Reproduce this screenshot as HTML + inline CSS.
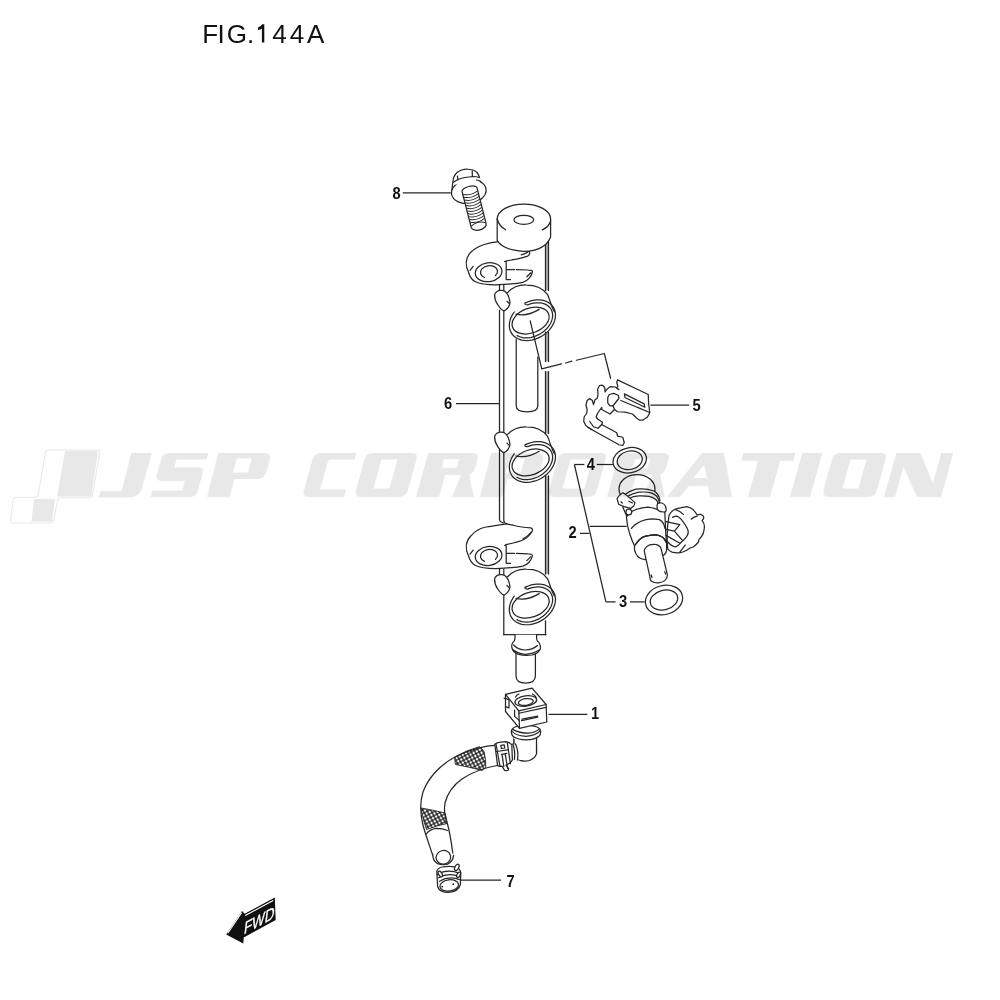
<!DOCTYPE html>
<html><head><meta charset="utf-8"><style>
html,body{margin:0;padding:0;background:#fff;width:1000px;height:1000px;overflow:hidden;}
svg{display:block;font-family:"Liberation Sans",sans-serif;will-change:transform;}
</style></head><body><svg width="1000" height="1000" viewBox="0 0 1000 1000"><rect x="545.5" y="240" width="3" height="50.39999999999998" fill="#b5b5b5"/><rect x="545.5" y="332" width="3" height="29.5" fill="#b5b5b5"/><rect x="545.5" y="371.5" width="3" height="61.89999999999998" fill="#b5b5b5"/><rect x="545.5" y="475.8" width="3" height="98.19999999999999" fill="#b5b5b5"/><path d="M545.5,240 V290.4" stroke="#262626" stroke-width="1.25" stroke-linecap="round" stroke-linejoin="round"  fill="none"/><path d="M545.5,332 V361.5" stroke="#262626" stroke-width="1.25" stroke-linecap="round" stroke-linejoin="round"  fill="none"/><path d="M545.5,371.5 V433.4" stroke="#262626" stroke-width="1.25" stroke-linecap="round" stroke-linejoin="round"  fill="none"/><path d="M545.5,475.8 V574" stroke="#262626" stroke-width="1.25" stroke-linecap="round" stroke-linejoin="round"  fill="none"/><path d="M545.5,620.8 V634.8" stroke="#262626" stroke-width="1.25" stroke-linecap="round" stroke-linejoin="round"  fill="none"/><path d="M548.5,240 V290.4" stroke="#262626" stroke-width="1.25" stroke-linecap="round" stroke-linejoin="round"  fill="none"/><path d="M548.5,332 V361.5" stroke="#262626" stroke-width="1.25" stroke-linecap="round" stroke-linejoin="round"  fill="none"/><path d="M548.5,371.5 V433.4" stroke="#262626" stroke-width="1.25" stroke-linecap="round" stroke-linejoin="round"  fill="none"/><path d="M548.5,475.8 V574" stroke="#262626" stroke-width="1.25" stroke-linecap="round" stroke-linejoin="round"  fill="none"/><path d="M499.5,284.8 V290" stroke="#262626" stroke-width="1.25" stroke-linecap="round" stroke-linejoin="round"  fill="none"/><path d="M499.5,310 V432.6" stroke="#262626" stroke-width="1.25" stroke-linecap="round" stroke-linejoin="round"  fill="none"/><path d="M503.8,284.8 V292" stroke="#262626" stroke-width="1.25" stroke-linecap="round" stroke-linejoin="round"  fill="none"/><path d="M503.8,306 V432.6" stroke="#262626" stroke-width="1.25" stroke-linecap="round" stroke-linejoin="round"  fill="none"/><path d="M503.8,569.4 V634.8" stroke="#262626" stroke-width="1.25" stroke-linecap="round" stroke-linejoin="round"  fill="none"/><path d="M499.5,449.4 V519.5 Q499.8,522.3 503.6,522.8" stroke="#262626" stroke-width="1.25" stroke-linecap="round" stroke-linejoin="round"  fill="none"/><path d="M503.8,453.4 V520.5 Q504.3,523.3 506.8,523.8" stroke="#262626" stroke-width="1.25" stroke-linecap="round" stroke-linejoin="round"  fill="none"/><path d="M499.5,569.4 V574.5" stroke="#262626" stroke-width="1.25" stroke-linecap="round" stroke-linejoin="round"  fill="none"/><path d="M503.8,634.5 H546" stroke="#262626" stroke-width="1.25" stroke-linecap="round" stroke-linejoin="round"  fill="none"/><path d="M516.2,339 V406 Q516.2,411.8 527,411.8 Q537.8,411.8 537.8,406 V357" stroke="#262626" stroke-width="1.25" stroke-linecap="round" stroke-linejoin="round"  fill="none"/><g transform="translate(0,0)"><path d="M507.6,576.8 C513,571 520,569 526.4,569.2 C535,569.2 542,571 547.6,578.8 C549.5,583 551,590 554.4,596" stroke="#262626" stroke-width="1.25" stroke-linecap="round" stroke-linejoin="round"  fill="none"/><path d="M502,574.6 C498,574 495,576.5 494.6,579 C494.5,583 496,586.5 497.5,588.5 C499,591 501,594 504,595.2 C507,593.5 509.5,590 510,587 C509.5,583 508.5,579 506,576.5 C505,575.5 503.5,574.8 502,574.6 Z" stroke="#262626" stroke-width="1.25" stroke-linecap="round" stroke-linejoin="round" fill="#fff"/><path d="M507,585.5 L509,587.5" stroke="#262626" stroke-width="1.25" stroke-linecap="round" stroke-linejoin="round"  fill="none"/><path d="M526.10,586.82 L528.76,585.74 L531.46,584.91 L534.18,584.35 L536.87,584.08 L539.50,584.08 L542.04,584.37 L544.44,584.93 L546.67,585.76 L548.70,586.85 L550.51,588.19 L552.07,589.75 L553.35,591.51 L554.35,593.45 L555.04,595.54 L555.41,597.76 L555.47,600.07 L555.21,602.44 L554.63,604.83 L553.74,607.22 L552.56,609.57 L551.10,611.85 L549.37,614.02 L547.42,616.07 L545.25,617.95 L542.91,619.64 L540.42,621.12 L537.82,622.37 L535.14,623.37 L532.43,624.11 L529.72,624.57 L527.04,624.75 L524.44,624.66 L521.95,624.28 L519.60,623.62 L517.43,622.70 L515.47,621.53 L513.74,620.12 L512.27,618.49 L511.08,616.66 L510.19,614.67 L509.60,612.53 L509.33,610.28 L509.38,607.95 L509.75,605.57 L510.43,603.17 L511.42,600.79 L512.70,598.46 L514.25,596.21" stroke="#262626" stroke-width="1.25" stroke-linecap="round" stroke-linejoin="round"  fill="none"/><path d="M528.59,588.69 L530.34,588.10 L532.11,587.62 L533.88,587.27 L535.63,587.04 L537.36,586.95 L539.05,586.98 L540.68,587.14 L542.25,587.43 L543.75,587.85 L545.16,588.38 L546.47,589.04 L547.68,589.81 L548.77,590.69 L549.74,591.67 L550.57,592.74 L551.27,593.90 L551.83,595.14 L552.25,596.45 L552.51,597.82 L552.62,599.23 L552.58,600.69 L552.39,602.17 L552.05,603.67 L551.56,605.18 L550.93,606.68 L550.16,608.16 L549.25,609.62 L548.22,611.04 L547.07,612.41 L545.81,613.73 L544.44,614.97 L542.99,616.14 L541.45,617.23 L539.84,618.22 L538.18,619.10 L536.47,619.89 L534.73,620.55 L532.97,621.10 L531.20,621.53 L529.43,621.83 L527.69,622.01 L525.98,622.06 L524.31,621.97 L522.70,621.76 L521.15,621.42 L519.69,620.96 L518.32,620.37 L517.04,619.67" stroke="#262626" stroke-width="1.25" stroke-linecap="round" stroke-linejoin="round"  fill="none"/><path d="M526.1,586.8 Q524.6,586.9 525,588.2 Q525.8,589.4 528.5,588.9" stroke="#262626" stroke-width="1.25" stroke-linecap="round" stroke-linejoin="round"  fill="none"/><ellipse cx="530.6" cy="604.8" rx="19.2" ry="12.4" transform="rotate(-20 530.6 604.8)" stroke="#262626" stroke-width="1.25" stroke-linecap="round" stroke-linejoin="round"  fill="none"/><path d="M516,598.4 Q527,601 539.2,593.6" stroke="#262626" stroke-width="1.25" stroke-linecap="round" stroke-linejoin="round"  fill="none"/></g><g transform="translate(0,-142.4)"><path d="M507.6,576.8 C513,571 520,569 526.4,569.2 C535,569.2 542,571 547.6,578.8 C549.5,583 551,590 554.4,596" stroke="#262626" stroke-width="1.25" stroke-linecap="round" stroke-linejoin="round"  fill="none"/><path d="M502,574.6 C498,574 495,576.5 494.6,579 C494.5,583 496,586.5 497.5,588.5 C499,591 501,594 504,595.2 C507,593.5 509.5,590 510,587 C509.5,583 508.5,579 506,576.5 C505,575.5 503.5,574.8 502,574.6 Z" stroke="#262626" stroke-width="1.25" stroke-linecap="round" stroke-linejoin="round" fill="#fff"/><path d="M507,585.5 L509,587.5" stroke="#262626" stroke-width="1.25" stroke-linecap="round" stroke-linejoin="round"  fill="none"/><path d="M526.10,586.82 L528.76,585.74 L531.46,584.91 L534.18,584.35 L536.87,584.08 L539.50,584.08 L542.04,584.37 L544.44,584.93 L546.67,585.76 L548.70,586.85 L550.51,588.19 L552.07,589.75 L553.35,591.51 L554.35,593.45 L555.04,595.54 L555.41,597.76 L555.47,600.07 L555.21,602.44 L554.63,604.83 L553.74,607.22 L552.56,609.57 L551.10,611.85 L549.37,614.02 L547.42,616.07 L545.25,617.95 L542.91,619.64 L540.42,621.12 L537.82,622.37 L535.14,623.37 L532.43,624.11 L529.72,624.57 L527.04,624.75 L524.44,624.66 L521.95,624.28 L519.60,623.62 L517.43,622.70 L515.47,621.53 L513.74,620.12 L512.27,618.49 L511.08,616.66 L510.19,614.67 L509.60,612.53 L509.33,610.28 L509.38,607.95 L509.75,605.57 L510.43,603.17 L511.42,600.79 L512.70,598.46 L514.25,596.21" stroke="#262626" stroke-width="1.25" stroke-linecap="round" stroke-linejoin="round"  fill="none"/><path d="M528.59,588.69 L530.34,588.10 L532.11,587.62 L533.88,587.27 L535.63,587.04 L537.36,586.95 L539.05,586.98 L540.68,587.14 L542.25,587.43 L543.75,587.85 L545.16,588.38 L546.47,589.04 L547.68,589.81 L548.77,590.69 L549.74,591.67 L550.57,592.74 L551.27,593.90 L551.83,595.14 L552.25,596.45 L552.51,597.82 L552.62,599.23 L552.58,600.69 L552.39,602.17 L552.05,603.67 L551.56,605.18 L550.93,606.68 L550.16,608.16 L549.25,609.62 L548.22,611.04 L547.07,612.41 L545.81,613.73 L544.44,614.97 L542.99,616.14 L541.45,617.23 L539.84,618.22 L538.18,619.10 L536.47,619.89 L534.73,620.55 L532.97,621.10 L531.20,621.53 L529.43,621.83 L527.69,622.01 L525.98,622.06 L524.31,621.97 L522.70,621.76 L521.15,621.42 L519.69,620.96 L518.32,620.37 L517.04,619.67" stroke="#262626" stroke-width="1.25" stroke-linecap="round" stroke-linejoin="round"  fill="none"/><path d="M526.1,586.8 Q524.6,586.9 525,588.2 Q525.8,589.4 528.5,588.9" stroke="#262626" stroke-width="1.25" stroke-linecap="round" stroke-linejoin="round"  fill="none"/><ellipse cx="530.6" cy="604.8" rx="19.2" ry="12.4" transform="rotate(-20 530.6 604.8)" stroke="#262626" stroke-width="1.25" stroke-linecap="round" stroke-linejoin="round"  fill="none"/><path d="M516,598.4 Q527,601 539.2,593.6" stroke="#262626" stroke-width="1.25" stroke-linecap="round" stroke-linejoin="round"  fill="none"/></g><g transform="translate(0,-284.2)"><path d="M507.6,576.8 C513,571 520,569 526.4,569.2 C535,569.2 542,571 547.6,578.8 C549.5,583 551,590 554.4,596" stroke="#262626" stroke-width="1.25" stroke-linecap="round" stroke-linejoin="round"  fill="none"/><path d="M502,574.6 C498,574 495,576.5 494.6,579 C494.5,583 496,586.5 497.5,588.5 C499,591 501,594 504,595.2 C507,593.5 509.5,590 510,587 C509.5,583 508.5,579 506,576.5 C505,575.5 503.5,574.8 502,574.6 Z" stroke="#262626" stroke-width="1.25" stroke-linecap="round" stroke-linejoin="round" fill="#fff"/><path d="M507,585.5 L509,587.5" stroke="#262626" stroke-width="1.25" stroke-linecap="round" stroke-linejoin="round"  fill="none"/><path d="M526.10,586.82 L528.76,585.74 L531.46,584.91 L534.18,584.35 L536.87,584.08 L539.50,584.08 L542.04,584.37 L544.44,584.93 L546.67,585.76 L548.70,586.85 L550.51,588.19 L552.07,589.75 L553.35,591.51 L554.35,593.45 L555.04,595.54 L555.41,597.76 L555.47,600.07 L555.21,602.44 L554.63,604.83 L553.74,607.22 L552.56,609.57 L551.10,611.85 L549.37,614.02 L547.42,616.07 L545.25,617.95 L542.91,619.64 L540.42,621.12 L537.82,622.37 L535.14,623.37 L532.43,624.11 L529.72,624.57 L527.04,624.75 L524.44,624.66 L521.95,624.28 L519.60,623.62 L517.43,622.70 L515.47,621.53 L513.74,620.12 L512.27,618.49 L511.08,616.66 L510.19,614.67 L509.60,612.53 L509.33,610.28 L509.38,607.95 L509.75,605.57 L510.43,603.17 L511.42,600.79 L512.70,598.46 L514.25,596.21" stroke="#262626" stroke-width="1.25" stroke-linecap="round" stroke-linejoin="round"  fill="none"/><path d="M528.59,588.69 L530.34,588.10 L532.11,587.62 L533.88,587.27 L535.63,587.04 L537.36,586.95 L539.05,586.98 L540.68,587.14 L542.25,587.43 L543.75,587.85 L545.16,588.38 L546.47,589.04 L547.68,589.81 L548.77,590.69 L549.74,591.67 L550.57,592.74 L551.27,593.90 L551.83,595.14 L552.25,596.45 L552.51,597.82 L552.62,599.23 L552.58,600.69 L552.39,602.17 L552.05,603.67 L551.56,605.18 L550.93,606.68 L550.16,608.16 L549.25,609.62 L548.22,611.04 L547.07,612.41 L545.81,613.73 L544.44,614.97 L542.99,616.14 L541.45,617.23 L539.84,618.22 L538.18,619.10 L536.47,619.89 L534.73,620.55 L532.97,621.10 L531.20,621.53 L529.43,621.83 L527.69,622.01 L525.98,622.06 L524.31,621.97 L522.70,621.76 L521.15,621.42 L519.69,620.96 L518.32,620.37 L517.04,619.67" stroke="#262626" stroke-width="1.25" stroke-linecap="round" stroke-linejoin="round"  fill="none"/><path d="M526.1,586.8 Q524.6,586.9 525,588.2 Q525.8,589.4 528.5,588.9" stroke="#262626" stroke-width="1.25" stroke-linecap="round" stroke-linejoin="round"  fill="none"/><ellipse cx="530.6" cy="604.8" rx="19.2" ry="12.4" transform="rotate(-20 530.6 604.8)" stroke="#262626" stroke-width="1.25" stroke-linecap="round" stroke-linejoin="round"  fill="none"/><path d="M516,598.4 Q527,601 539.2,593.6" stroke="#262626" stroke-width="1.25" stroke-linecap="round" stroke-linejoin="round"  fill="none"/></g><g transform="translate(0,283.8)"><path d="M506.8,240 C500,241 490,242.5 486,243.2 C480,244.5 475,247 471,252 C465,258 465.5,266 468.4,272 C470,277 472,280 475,281.5 C480,284 488,284.8 496,284.8 C505,284.6 515,284 522.8,282.4 C528,281 531.5,276 532.4,272 C532.6,270.5 531,270 528,270 L516.4,269.6" stroke="#262626" stroke-width="1.25" stroke-linecap="round" stroke-linejoin="round"  fill="none"/><path d="M514.5,269.6 L506.8,269.6" stroke="#262626" stroke-width="1.25" stroke-linecap="round" stroke-linejoin="round"  fill="none"/><path d="M506.8,240 C509,240.7 512,241.2 514,241.7 C520,243.2 526,243.7 530.8,244 C532.5,244.7 532.8,246.2 532.4,247 C531.5,249.2 530,251.2 527,253.7 C523,256.7 518,258.2 513.2,259.2 L506,260.8" stroke="#262626" stroke-width="1.25" stroke-linecap="round" stroke-linejoin="round"  fill="none"/><path d="M523,255 Q528,252.5 531,248.5" stroke="#262626" stroke-width="1.25" stroke-linecap="round" stroke-linejoin="round"  fill="none"/><path d="M504.6,261.6 Q505.8,260.8 506.2,262 V279.5 H510.5" stroke="#262626" stroke-width="1.25" stroke-linecap="round" stroke-linejoin="round"  fill="none"/><ellipse cx="488.6" cy="272.2" rx="13.4" ry="9.4" transform="rotate(-8 488.6 272.2)" stroke="#262626" stroke-width="1.25" stroke-linecap="round" stroke-linejoin="round"  fill="none"/><path d="M495.5,275.5 A8.6,6.2 -8 1 0 484.5,277.5" stroke="#262626" stroke-width="1.25" stroke-linecap="round" stroke-linejoin="round"  fill="none"/><path d="M470,270.4 L473.2,266.4" stroke="#262626" stroke-width="1.25" stroke-linecap="round" stroke-linejoin="round"  fill="none"/><path d="M526.8,276.8 L530.8,272.8" stroke="#262626" stroke-width="1.25" stroke-linecap="round" stroke-linejoin="round"  fill="none"/></g><g transform="translate(0,0)"><path d="M498.8,241.6 C490,242 478,245.5 471,252 C465,258 465.5,266 468.4,272 C470,277 472,280 475,281.5 C480,284 488,284.8 496,284.8 C505,284.6 515,284 522.8,282.4 C528,281 531.5,276 532.4,272 C532.6,270.5 531,270 528,270 L516.4,269.6" stroke="#262626" stroke-width="1.25" stroke-linecap="round" stroke-linejoin="round"  fill="none"/><path d="M514.5,269.6 L506.8,269.6" stroke="#262626" stroke-width="1.25" stroke-linecap="round" stroke-linejoin="round"  fill="none"/><path d="M498.8,241.6 C502,245 508,247.5 514,248.3 C520,249.5 526,249.6 528.5,250.8 C530.5,252.5 529.8,255 527.5,256.2 C522,258.5 515,259.5 511.6,260 L506.5,260.8" stroke="#262626" stroke-width="1.25" stroke-linecap="round" stroke-linejoin="round"  fill="none"/><path d="M521.2,254.8 Q525.5,253.8 527.8,252" stroke="#262626" stroke-width="1.25" stroke-linecap="round" stroke-linejoin="round"  fill="none"/><path d="M504.6,261.6 Q505.8,260.8 506.2,262 V279.5 H510.5" stroke="#262626" stroke-width="1.25" stroke-linecap="round" stroke-linejoin="round"  fill="none"/><ellipse cx="488.6" cy="272.2" rx="13.4" ry="9.4" transform="rotate(-8 488.6 272.2)" stroke="#262626" stroke-width="1.25" stroke-linecap="round" stroke-linejoin="round"  fill="none"/><path d="M495.5,275.5 A8.6,6.2 -8 1 0 484.5,277.5" stroke="#262626" stroke-width="1.25" stroke-linecap="round" stroke-linejoin="round"  fill="none"/><path d="M470,270.4 L473.2,266.4" stroke="#262626" stroke-width="1.25" stroke-linecap="round" stroke-linejoin="round"  fill="none"/><path d="M526.8,276.8 L530.8,272.8" stroke="#262626" stroke-width="1.25" stroke-linecap="round" stroke-linejoin="round"  fill="none"/></g><path d="M497.2,219 V240.6 Q503,250 524,251.4 Q545,251 550.6,237 V219" stroke="#262626" stroke-width="1.25" stroke-linecap="round" stroke-linejoin="round" fill="#fff"/><path d="M497.2,219 A26.7,15 0 0 1 550.6,219" stroke="#262626" stroke-width="1.25" stroke-linecap="round" stroke-linejoin="round" fill="#fff"/><path d="M497.2,219 Q499,226 505.6,229.8" stroke="#262626" stroke-width="1.25" stroke-linecap="round" stroke-linejoin="round"  fill="none"/><path d="M542.2,229.8 Q549,227 550.6,221" stroke="#262626" stroke-width="1.25" stroke-linecap="round" stroke-linejoin="round"  fill="none"/><ellipse cx="523.8" cy="219.8" rx="9.9" ry="4.5" stroke="#262626" stroke-width="1.25" stroke-linecap="round" stroke-linejoin="round"  fill="none"/><ellipse cx="468.8" cy="191.6" rx="17.4" ry="11.9" transform="rotate(-8 468.8 191.6)" stroke="#262626" stroke-width="1.25" stroke-linecap="round" stroke-linejoin="round" fill="#fff"/><path d="M453,184.5 L453.5,178 Q455,174.5 456.5,173 Q459,171 461.5,170 Q464.5,169.2 467.5,169.25 Q470.5,169.4 473,170 Q475.5,171 477,172.5 Q478.6,174.3 479.5,177.5 L480.2,181.5 Q470,185 453,184.5 Z" fill="#fff" stroke="none"/><path d="M451.9,190 L452.6,184 L453.5,178 Q455,174.5 456.5,173 Q459,171 461.5,170 Q464.5,169.2 467.5,169.25 Q470.5,169.4 473,170 Q475.5,171 477,172.5 Q478.6,174.3 479.5,177.5" stroke="#262626" stroke-width="1.25" stroke-linecap="round" stroke-linejoin="round"  fill="none"/><path d="M453.6,182.2 Q455.5,180.5 458,179.5 Q461.5,178.2 465,177.5 Q469,176.8 472.5,176.5 Q476.5,176.6 479.5,177.5" stroke="#262626" stroke-width="1.25" stroke-linecap="round" stroke-linejoin="round"  fill="none"/><path d="M457.4,176.2 L457.9,179.8 M472.2,171 L472.4,176.4" stroke="#262626" stroke-width="1.25" stroke-linecap="round" stroke-linejoin="round"  fill="none"/><path d="M476.5,180 Q479,180.2 480.8,181.6" stroke="#262626" stroke-width="1.25" stroke-linecap="round" stroke-linejoin="round"  fill="none"/><g transform="translate(469.5,189.6) rotate(-14.35)"><path d="M-7.7,0 A7.7,3.2 0 0 1 7.7,0 V37 A7.7,4.6 0 0 1 -7.7,37 Z" fill="#fff" stroke="#262626" stroke-width="1.25"/><path d="M-7.4,3.20 Q0,6.60 7.4,3.20" fill="none" stroke="#262626" stroke-width="1"/><path d="M-7.4,6.05 Q0,9.45 7.4,6.05" fill="none" stroke="#262626" stroke-width="1"/><path d="M-7.4,8.90 Q0,12.30 7.4,8.90" fill="none" stroke="#262626" stroke-width="1"/><path d="M-7.4,11.75 Q0,15.15 7.4,11.75" fill="none" stroke="#262626" stroke-width="1"/><path d="M-7.4,14.60 Q0,18.00 7.4,14.60" fill="none" stroke="#262626" stroke-width="1"/><path d="M-7.4,17.45 Q0,20.85 7.4,17.45" fill="none" stroke="#262626" stroke-width="1"/><path d="M-7.4,20.30 Q0,23.70 7.4,20.30" fill="none" stroke="#262626" stroke-width="1"/><path d="M-7.4,23.15 Q0,26.55 7.4,23.15" fill="none" stroke="#262626" stroke-width="1"/><path d="M-7.4,26.00 Q0,29.40 7.4,26.00" fill="none" stroke="#262626" stroke-width="1"/><path d="M-7.4,28.85 Q0,32.25 7.4,28.85" fill="none" stroke="#262626" stroke-width="1"/><path d="M-7.4,31.70 Q0,35.10 7.4,31.70" fill="none" stroke="#262626" stroke-width="1"/><path d="M-7.4,36 Q0,31.8 7.4,36" fill="none" stroke="#262626" stroke-width="1"/></g><path d="M516,652 V676 Q516,683 525.6,683.2 Q535.2,683 535.4,676 V652" stroke="#262626" stroke-width="1.25" stroke-linecap="round" stroke-linejoin="round" fill="#fff"/><path d="M515,634.8 V638.5 Q514.8,641 512.8,642.5 Q511.4,644.5 511.8,647.5 Q512.8,652 518,654.2 Q525,656.2 532,655 Q538.5,653.5 540.3,649 Q541,645.5 539,642.5 Q536.6,641 536.6,638.5 V634.8" stroke="#262626" stroke-width="1.25" stroke-linecap="round" stroke-linejoin="round" fill="#fff"/><path d="M513.6,645 Q518,649.8 525.2,650 Q532.5,649.8 537.5,645.5" stroke="#262626" stroke-width="1.25" stroke-linecap="round" stroke-linejoin="round"  fill="none"/><path d="M512.6,649.5 Q518,653.8 525.5,654.3 Q533,654 539.2,650" stroke="#262626" stroke-width="1.25" stroke-linecap="round" stroke-linejoin="round"  fill="none"/><path d="M541.75,368.8 L561.55,363.85" stroke="#fff" stroke-width="5" fill="none"/><path d="M530.2,320.8 L541.75,368.8 L561.55,363.85" stroke="#262626" stroke-width="1.25" stroke-linecap="round" stroke-linejoin="round"  fill="none"/><path d="M565.6,363 L571.9,361.2" stroke="#262626" stroke-width="1.25" stroke-linecap="round" stroke-linejoin="round"  fill="none"/><path d="M576.4,360.25 L604.3,353.5 L610.6,378.25" stroke="#262626" stroke-width="1.25" stroke-linecap="round" stroke-linejoin="round"  fill="none"/><polygon points="617.50,379.88 648.25,394.50 648.62,403.50 649.75,412.50 647.50,417.00 643.00,420.00 639.25,420.00 636.25,417.75 632.50,414.00 625.00,412.12 617.50,411.75 614.50,409.50 610.00,414.00 601.75,409.50 601.75,407.25 597.25,414.00 596.12,417.00 598.00,419.25 602.50,422.25 601.75,424.50 616.75,432.75 617.50,436.12 622.75,437.25 624.25,442.50 622.75,445.50 619.00,444.75 592.00,429.75 588.25,427.50 585.62,425.25 583.75,421.50 584.12,417.00 586.75,413.25 587.12,409.50 586.00,405.00 587.12,400.50 589.75,398.62 592.38,400.50 593.50,404.62 595.00,399.75 597.25,398.25 598.00,394.50 597.62,389.25 599.50,385.50 602.50,385.12 604.75,387.75 605.12,391.88 606.25,390.00 610.00,386.62 615.25,387.00 619.00,389.62 616.75,388.12 617.88,386.25 616.75,382.50" stroke="#262626" stroke-width="1.25" stroke-linecap="round" stroke-linejoin="round" fill="#fff"/><polygon fill="none" points="609.25,394.50 613.75,393.38 618.25,395.25 619.00,398.25 613.00,405.75 610.00,405.75 607.75,402.75 607.75,397.50" stroke="#262626" stroke-width="1.25" stroke-linecap="round" stroke-linejoin="round"/><polygon fill="none" points="624.40,393.90 644.12,403.88 644.88,407.25 625.00,397.50" stroke="#262626" stroke-width="1.25" stroke-linecap="round" stroke-linejoin="round"/><polyline fill="none" points="620.88,400.50 649.75,412.50" stroke="#262626" stroke-width="1.25" stroke-linecap="round" stroke-linejoin="round"/><polyline fill="none" points="613.00,405.75 614.50,409.50" stroke="#262626" stroke-width="1.25" stroke-linecap="round" stroke-linejoin="round"/><polyline fill="none" points="589.75,421.50 593.50,426.75 598.00,428.25 601.75,424.50" stroke="#262626" stroke-width="1.25" stroke-linecap="round" stroke-linejoin="round"/><polyline fill="none" points="588.25,427.50 592.00,429.75" stroke="#262626" stroke-width="1.25" stroke-linecap="round" stroke-linejoin="round"/><ellipse cx="629.75" cy="460.25" rx="16.9" ry="12.5" transform="rotate(-12 629.75 460.25)" stroke="#262626" stroke-width="1.25" stroke-linecap="round" stroke-linejoin="round"  fill="none"/><ellipse cx="629.75" cy="460.25" rx="12.7" ry="9.2" transform="rotate(-12 629.75 460.25)" stroke="#262626" stroke-width="1.25" stroke-linecap="round" stroke-linejoin="round"  fill="none"/><ellipse cx="664" cy="600" rx="18.9" ry="14.5" transform="rotate(-15 664 600)" stroke="#262626" stroke-width="1.25" stroke-linecap="round" stroke-linejoin="round"  fill="none"/><ellipse cx="664" cy="600" rx="14" ry="9.7" transform="rotate(-15 664 600)" stroke="#262626" stroke-width="1.25" stroke-linecap="round" stroke-linejoin="round"  fill="none"/><ellipse cx="637" cy="489" rx="18" ry="14.5" stroke="#262626" stroke-width="1.25" stroke-linecap="round" stroke-linejoin="round" fill="#fff"/><path d="M622,497 Q628,491 636,489.2 Q645,487.8 654,491 Q659,494 660.2,500.6 L662,512 L630,514 Z" fill="#fff" stroke="none"/><path d="M625.8,494 Q630,491 636,489.2 Q645,487.8 654,491 Q659,494 660,500.6" stroke="#262626" stroke-width="1.25" stroke-linecap="round" stroke-linejoin="round"  fill="none"/><path d="M627.6,496.4 Q633,493 639,492.2 Q647,491.6 651,492.8 Q656,494.5 657.6,497.6 Q659,500 659.4,502.4" stroke="#262626" stroke-width="1.25" stroke-linecap="round" stroke-linejoin="round"  fill="none"/><path d="M629.4,498.2 Q634,496.2 639,495.8 Q645,495.6 649.2,496.4 Q654,497.5 656.4,500 Q658,502 658.2,503.6" stroke="#262626" stroke-width="1.25" stroke-linecap="round" stroke-linejoin="round"  fill="none"/><path d="M626.4,516.8 Q627,526 629.8,534 Q632,541 634.6,546 Q640,538 645,536.4 Q650,534.8 655.4,534.8 Q661,535 665.8,541.2 L666.6,543.6 L665.8,534 L664.8,512 Q662,509 660,510.8 Q655,508 648,507.2 Q640,507.5 631.8,511.4 Z" stroke="#262626" stroke-width="1.25" stroke-linecap="round" stroke-linejoin="round" fill="#fff"/><path d="M631.4,528.4 Q635,524 641,521.2 Q646,519 651.4,518.8 Q656,518.8 659.4,519.6 Q662,521 663.4,523.6 Q664.5,526 665,528.4" stroke="#262626" stroke-width="1.25" stroke-linecap="round" stroke-linejoin="round"  fill="none"/><path d="M634.6,546 Q634,550 635.4,552.4 Q636.5,555.5 638.6,557.2 Q641,559 645,559.6 L664.2,554.8 Q666.6,552.5 666.6,550 V543.6 Q664,538 662.6,537.2 Q658,534.8 655.4,534.8 Q650,534.8 645,536.4 Q640,538 636.2,543.6 Z" stroke="#262626" stroke-width="1.25" stroke-linecap="round" stroke-linejoin="round" fill="#fff"/><path d="M636.2,543.6 Q640,538 645,536.4 Q650,534.8 655.4,534.8 Q660,535 662.6,537.2 Q665,539 665.8,541.2" stroke="#262626" stroke-width="1.25" stroke-linecap="round" stroke-linejoin="round"  fill="none"/><path d="M644.2,550.8 L649.8,576.4 Q650,580 651.4,581.2 Q655,583.2 658.6,582.8 Q663,582.2 665,580.4 Q667.4,578 667.4,574.8 L661.8,551.6 Q661,547.5 660.2,546.8 Q658,544.6 655.4,544.4 Q652,544 649,545.2 Q645,547 644.2,550.8 Z" stroke="#262626" stroke-width="1.25" stroke-linecap="round" stroke-linejoin="round" fill="#fff"/><path d="M651.2,575 L652,577.5 M664.8,571.6 L665.6,574" stroke="#262626" stroke-width="1.25" stroke-linecap="round" stroke-linejoin="round"  fill="none"/><path d="M617.1,498.8 Q619,495 622.8,492.8 L625.8,494.6 L634.8,502.4 Q635,504.5 633.6,506 L630.6,508.4 L624,506.6 L618.6,504.2 Z" stroke="#262626" stroke-width="1.25" stroke-linecap="round" stroke-linejoin="round" fill="#fff"/><path d="M628.8,501.2 L632.4,503" stroke="#262626" stroke-width="1.25" stroke-linecap="round" stroke-linejoin="round"  fill="none"/><path d="M621,501.8 L622.2,503" stroke="#262626" stroke-width="1.25" stroke-linecap="round" stroke-linejoin="round"  fill="none"/><path d="M622.8,507 L626.4,515.6" stroke="#262626" stroke-width="1.25" stroke-linecap="round" stroke-linejoin="round"  fill="none"/><ellipse cx="628.8" cy="512" rx="2.9" ry="2.9" stroke="#262626" stroke-width="1.25" stroke-linecap="round" stroke-linejoin="round" fill="#fff"/><path d="M657.6,503.6 Q659,502.6 661.8,503 Q664.5,504 665.4,506 Q666.4,508.5 666,510.8 Q665,512.2 663.6,512 Q660,511.8 658.8,510.8 Q657,509 657,507.2 Q657,505 657.6,503.6 Z" stroke="#262626" stroke-width="1.25" stroke-linecap="round" stroke-linejoin="round" fill="#fff"/><path d="M667.8,549.2 Q666,532 669,515.6 Q670.5,512 673.2,510.2 Q675.5,509 678,508.4 Q683,507 687,506.6 Q690.5,507.5 693,509.6 Q695.5,512 697.2,515 Q699,514 700.8,514.4 Q703.5,515.5 703.8,517.4 Q703.6,519.3 702,520.4 Q704.6,523.5 704.4,527 Q704.2,530.5 703.2,533.6 Q701.5,537 699,539.6 L698.4,542 Q696,545 693.6,546.8 Q692,547.5 690,548 Q687.5,549.8 685.2,551 Q682,552.5 679.2,552.8 Q675.5,553 672,552.2 Q669.5,551.2 667.8,549.2 Z" stroke="#262626" stroke-width="1.25" stroke-linecap="round" stroke-linejoin="round" fill="#fff"/><path d="M667.8,542 Q670,544.5 672,545.6 Q674,547 675.6,546.8 Q677.5,546 679.2,544.4 Q681,542.5 682.8,540.8 Q685.5,538.5 687,536 Q688.6,533.5 688.2,531.2 Q687.5,528 685.8,525.8 Q683.5,522 681,519.2 Q679,516.8 676.8,516.2 Q674.5,516.2 672.6,517.4" stroke="#262626" stroke-width="1.25" stroke-linecap="round" stroke-linejoin="round"  fill="none"/><path d="M666,521.6 L679.8,524.6 L674.4,531.2 L666,529.4 M674.4,531.2 L682.2,540.2 M666,535.4 L679.8,543.2" stroke="#262626" stroke-width="1.25" stroke-linecap="round" stroke-linejoin="round"  fill="none"/><path d="M675.6,509.6 Q680,511 683.4,514.4" stroke="#262626" stroke-width="1.25" stroke-linecap="round" stroke-linejoin="round"  fill="none"/><path d="M691.2,519.2 Q694,516.8 697.2,516.2" stroke="#262626" stroke-width="1.25" stroke-linecap="round" stroke-linejoin="round"  fill="none"/><path d="M685.2,545 L679.8,552.2" stroke="#262626" stroke-width="1.25" stroke-linecap="round" stroke-linejoin="round"  fill="none"/><path d="M514,737 V745 L536.5,745 V753.6 Q535,758 532,759.2 Q528.5,761.4 525,761.2 Q521,761 518.6,759.6" stroke="#262626" stroke-width="1.25" stroke-linecap="round" stroke-linejoin="round" fill="#fff"/><path d="M514,737 H536.6 V753 Q530,762 518.6,759.6 L514,758 Z" fill="#fff" stroke="none"/><path d="M536.5,737 V753.6" stroke="#262626" stroke-width="1.25" stroke-linecap="round" stroke-linejoin="round"  fill="none"/><path d="M511.4,731 A14.6,6 0 0 1 540.6,731 V732.5 Q540.6,734.5 539.2,736 Q535,739.6 526,739.9 Q518,739.8 513.5,736.8 Q512,735.5 511.4,733 Z" stroke="#262626" stroke-width="1.25" stroke-linecap="round" stroke-linejoin="round" fill="#fff"/><path d="M511.8,731 Q515,735.6 526,736.3 Q536.5,735.6 540.2,730.6" stroke="#262626" stroke-width="1.25" stroke-linecap="round" stroke-linejoin="round"  fill="none"/><path d="M512.6,729.4 Q520,733.2 528,733.2 Q536,732.6 539.6,728.6" stroke="#262626" stroke-width="1.25" stroke-linecap="round" stroke-linejoin="round"  fill="none"/><path d="M509.6,744 L515.5,743.6 Q519.5,752 517.4,760 L510.8,759.4 Z" fill="#fff" stroke="none"/><path d="M509.8,744.4 Q512.4,751 511,759" stroke="#262626" stroke-width="1.25" stroke-linecap="round" stroke-linejoin="round"  fill="none"/><path d="M512.8,744 Q515.6,751 514.4,759.4" stroke="#262626" stroke-width="1.25" stroke-linecap="round" stroke-linejoin="round"  fill="none"/><path d="M515.4,743.8 Q519,751.5 517.4,760" stroke="#262626" stroke-width="1.25" stroke-linecap="round" stroke-linejoin="round"  fill="none"/><path d="M514,739.5 V744" stroke="#262626" stroke-width="1.25" stroke-linecap="round" stroke-linejoin="round"  fill="none"/><path d="M499,744.8 C488,745.5 470,749 455,757 C440,765 428,778 423,792 C419.5,803 420.5,815 423,825 C425,833 428,841 432.6,855 L452.8,853 C451,840 449.5,831 447.5,824 C445.5,819 443.5,811 445,803 C447,795 452,786 462,779 C472,772 488,767 499.5,765 Z" fill="#fff" stroke="none"/><defs><pattern id="mesh" width="3.5" height="3.5" patternUnits="userSpaceOnUse" patternTransform="rotate(-28)"><rect width="3.5" height="3.5" fill="#262626"/><circle cx="1.75" cy="1.75" r="1.22" fill="#fff"/></pattern></defs><path d="M454.6,757.2 Q467,750 479.2,746.7 Q483.5,749.5 484.2,752 Q486,760 485.8,767.4 L482.2,770.4 Q469,767 455.4,764.4 Z" fill="url(#mesh)" stroke="#262626" stroke-width="0.9"/><path d="M421,808 Q433,810 445,813 Q446.5,818 447.2,823.5 Q437,825.5 426.5,829.5 Q423,820 421,808 Z" fill="url(#mesh)" stroke="#262626" stroke-width="0.9"/><path d="M499,744.8 C488,745.5 470,749 455,757 C440,765 428,778 423,792 C419.5,803 420.5,815 423,825 C425,833 428,841 432.6,855" stroke="#262626" stroke-width="1.25" stroke-linecap="round" stroke-linejoin="round"  fill="none"/><path d="M499.5,765 C488,767 472,772 462,779 C452,786 447,795 445,803 C443.5,811 445.5,819 447.5,824 C449.5,831 451,840 452.8,853" stroke="#262626" stroke-width="1.25" stroke-linecap="round" stroke-linejoin="round"  fill="none"/><path d="M426.3,834 Q430,829 436,828.3 Q443,828.3 447.6,830.5" stroke="#262626" stroke-width="1.25" stroke-linecap="round" stroke-linejoin="round"  fill="none"/><path d="M432.8,854 Q432.5,860 437,863.3 Q442,865.3 447.5,864.2 Q452.8,862 453.6,855.4" stroke="#262626" stroke-width="1.25" stroke-linecap="round" stroke-linejoin="round" fill="#fff"/><ellipse cx="443.4" cy="857.3" rx="7.3" ry="6.8" transform="rotate(-15 443.4 857.3)" stroke="#262626" stroke-width="1.25" stroke-linecap="round" stroke-linejoin="round" fill="#fff"/><path d="M494.8,744.2 Q497,742.6 499.2,742.4 L505.6,741.6 Q509.5,742.2 511.8,744.6 L512.4,760 Q510,764 506,765.2 L508.6,768.6 Q508.8,770.6 506.6,770.6 L504.6,770.4 L502,766.2 Q499.5,766.6 497.6,765.6 Z" stroke="#262626" stroke-width="1.25" stroke-linecap="round" stroke-linejoin="round" fill="#fff"/><path d="M496,744 L500,766.4" stroke="#262626" stroke-width="1.25" stroke-linecap="round" stroke-linejoin="round"  fill="none"/><path d="M507.2,742.2 L510.4,763.6" stroke="#262626" stroke-width="1.25" stroke-linecap="round" stroke-linejoin="round"  fill="none"/><path d="M496.5,751.5 L507.6,749.8" stroke="#262626" stroke-width="1.25" stroke-linecap="round" stroke-linejoin="round"  fill="none"/><path d="M500.8,745.3 L504.2,744.8 L504.8,748 L501.4,748.5 Z" stroke="#262626" stroke-width="1.25" stroke-linecap="round" stroke-linejoin="round"  fill="none"/><path d="M501.6,754.4 L506.8,753.4 M502,754.4 L503.8,766.4 M505.2,753.8 L507.6,768.4" stroke="#262626" stroke-width="1.25" stroke-linecap="round" stroke-linejoin="round"  fill="none"/><polygon points="505.50,694.35 532.10,688.05 546.10,704.50 546.80,722.00 519.50,728.30 505.50,711.50" stroke="#262626" stroke-width="1.25" stroke-linecap="round" stroke-linejoin="round" fill="#fff"/><polyline fill="none" points="505.50,694.35 518.80,710.80 546.10,704.50" stroke="#262626" stroke-width="1.25" stroke-linecap="round" stroke-linejoin="round"/><polyline fill="none" points="518.80,710.80 519.50,728.30" stroke="#262626" stroke-width="1.25" stroke-linecap="round" stroke-linejoin="round"/><polyline fill="none" points="518.80,713.25 546.10,707.30" stroke="#262626" stroke-width="1.25" stroke-linecap="round" stroke-linejoin="round"/><polyline fill="none" points="521.60,720.60 537.70,717.10" stroke="#262626" stroke-width="1.25" stroke-linecap="round" stroke-linejoin="round"/><polyline fill="none" points="521.95,719.20 537.70,716.05" stroke="#262626" stroke-width="1.25" stroke-linecap="round" stroke-linejoin="round"/><polyline fill="none" points="514.60,710.10 514.60,716.40 519.50,720.60" stroke="#262626" stroke-width="1.25" stroke-linecap="round" stroke-linejoin="round"/><polyline fill="none" points="504.10,698.20 509.00,699.60 509.00,708.00 505.50,706.60" stroke="#262626" stroke-width="1.25" stroke-linecap="round" stroke-linejoin="round"/><ellipse cx="525.8" cy="701" rx="10.9" ry="5.25" transform="rotate(-8 525.8 701)" stroke="#262626" stroke-width="1.25" stroke-linecap="round" stroke-linejoin="round"  fill="none"/><ellipse cx="525.8" cy="702" rx="7.5" ry="3.3" transform="rotate(-8 525.8 702)" stroke="#262626" stroke-width="1.25" stroke-linecap="round" stroke-linejoin="round"  fill="none"/><path d="M515.5,697 Q517,694.5 519,694 M532.5,694 Q535,695 536.2,697.5" stroke="#262626" stroke-width="1.25" stroke-linecap="round" stroke-linejoin="round"  fill="none"/><path d="M436.8,871.5 Q437.6,868 442,867 Q448,866 455,866.8 Q460,868 460.8,872.5 L460.4,884.5 Q458.5,891.6 448.5,892.4 Q439.5,892.4 437.6,886.5 Z" stroke="#262626" stroke-width="1.25" stroke-linecap="round" stroke-linejoin="round" fill="#fff"/><path d="M437.5,874.5 Q447,868.5 459.8,873.5" stroke="#262626" stroke-width="1.25" stroke-linecap="round" stroke-linejoin="round"  fill="none"/><path d="M438.5,877.8 Q448,872.3 460,876.6" stroke="#262626" stroke-width="1.25" stroke-linecap="round" stroke-linejoin="round"  fill="none"/><path d="M439.5,881.3 Q449,875.5 460.3,879.8" stroke="#262626" stroke-width="1.25" stroke-linecap="round" stroke-linejoin="round"  fill="none"/><ellipse cx="449.2" cy="885.4" rx="9.4" ry="5.6" transform="rotate(-8 449.2 885.4)" stroke="#262626" stroke-width="1.25" stroke-linecap="round" stroke-linejoin="round" fill="#fff"/><ellipse cx="440.3" cy="874" rx="1.7" ry="3.2" transform="rotate(-30 440.3 874)" stroke="#262626" stroke-width="1.25" stroke-linecap="round" stroke-linejoin="round" fill="#fff"/><ellipse cx="456.8" cy="867.4" rx="1.9" ry="3.4" transform="rotate(28 456.8 867.4)" stroke="#262626" stroke-width="1.25" stroke-linecap="round" stroke-linejoin="round" fill="#fff"/><ellipse cx="458.6" cy="874.8" rx="1.6" ry="2.9" transform="rotate(28 458.6 874.8)" stroke="#262626" stroke-width="1.25" stroke-linecap="round" stroke-linejoin="round" fill="#fff"/><circle cx="442.2" cy="886.6" r="0.9" fill="#111"/><circle cx="453.2" cy="884.2" r="0.9" fill="#111"/><path d="M226.2,934.5 L242,911 L244.7,913.8 L274.8,897.6 L275.7,920 L243.75,937.6 L243.3,943.5 Z" fill="#111"/><path d="M227.8,933.2 L241.6,912.6 M245.2,915.6 L273.2,900.4" stroke="#fff" stroke-width="1.1" fill="none"/><text transform="matrix(1,-0.543,-0.12,1,243.4,934.6)" font-family="Liberation Sans" font-size="17.5" fill="#fff" stroke="#fff" stroke-width="0.35" textLength="30.5" lengthAdjust="spacingAndGlyphs">FWD</text><text transform="translate(392.40,198.80) scale(0.9,1)" font-family="Liberation Sans" font-weight="bold" font-size="16.3" fill="#111">8</text><text transform="translate(444.10,408.80) scale(0.9,1)" font-family="Liberation Sans" font-weight="bold" font-size="16.3" fill="#111">6</text><text transform="translate(692.60,410.50) scale(0.9,1)" font-family="Liberation Sans" font-weight="bold" font-size="16.3" fill="#111">5</text><text transform="translate(586.80,470.40) scale(0.9,1)" font-family="Liberation Sans" font-weight="bold" font-size="16.3" fill="#111">4</text><text transform="translate(568.60,538.10) scale(0.9,1)" font-family="Liberation Sans" font-weight="bold" font-size="16.3" fill="#111">2</text><text transform="translate(619.00,606.50) scale(0.9,1)" font-family="Liberation Sans" font-weight="bold" font-size="16.3" fill="#111">3</text><text transform="translate(591.00,718.50) scale(0.9,1)" font-family="Liberation Sans" font-weight="bold" font-size="16.3" fill="#111">1</text><text transform="translate(506.50,886.50) scale(0.9,1)" font-family="Liberation Sans" font-weight="bold" font-size="16.3" fill="#111">7</text><line x1="402.8" y1="192.9" x2="450.8" y2="192.9" stroke="#262626" stroke-width="1.25"/><line x1="456" y1="403.6" x2="499.5" y2="403.6" stroke="#262626" stroke-width="1.25"/><line x1="650.4" y1="405" x2="689.2" y2="405" stroke="#262626" stroke-width="1.25"/><line x1="596.8" y1="464.5" x2="613" y2="464.5" stroke="#262626" stroke-width="1.25"/><line x1="580" y1="533.4" x2="589.3" y2="533.4" stroke="#262626" stroke-width="1.25"/><line x1="630" y1="601.9" x2="644.6" y2="601.9" stroke="#262626" stroke-width="1.25"/><line x1="548.5" y1="714.4" x2="587.3" y2="714.4" stroke="#262626" stroke-width="1.25"/><line x1="461" y1="880.1" x2="501" y2="880.1" stroke="#262626" stroke-width="1.25"/><line x1="574.4" y1="464.5" x2="584.4" y2="464.5" stroke="#262626" stroke-width="1.25"/><line x1="574.4" y1="464.5" x2="605.9" y2="601.9" stroke="#262626" stroke-width="1.25"/><line x1="605.9" y1="601.9" x2="615.6" y2="601.9" stroke="#262626" stroke-width="1.25"/><line x1="589.7" y1="526.4" x2="626.6" y2="526.4" stroke="#262626" stroke-width="1.25"/><path d="M258,27.6 Q260.9,26.8 262.2,24.3 H264.3 V42.5 H261.9 V28.6 Q260.3,29.9 258,30 Z" fill="#111"/><text x="202.20" y="42.6" font-family="Liberation Sans" font-size="26" fill="#111">F</text><text x="217.40" y="42.6" font-family="Liberation Sans" font-size="26" fill="#111">I</text><text x="226.80" y="42.6" font-family="Liberation Sans" font-size="26" fill="#111">G</text><text x="246.90" y="42.6" font-family="Liberation Sans" font-size="26" fill="#111">.</text><text x="272.20" y="42.6" font-family="Liberation Sans" font-size="26" fill="#111">4</text><text x="289.70" y="42.6" font-family="Liberation Sans" font-size="26" fill="#111">4</text><text x="307.00" y="42.6" font-family="Liberation Sans" font-size="26" fill="#111">A</text><g style="mix-blend-mode:multiply"><g transform="translate(0,497) skewX(-15.64) translate(0,-497)"><path d="M119,453 H139.5 V487 Q139.5,497.5 129,497.5 H99 V491 H120 Z" fill="#e8e8e8" fill-rule="evenodd"/><path d="M157,453 H196 V459.5 H166 V467.5 H190 Q196,467.5 196,473.5 V491 Q196,497 190,497 H150.5 V490.5 H180.4 V481 H157 Q150.5,481 150.5,474.5 V459.5 Q150.5,453 157,453 Z" fill="#e8e8e8" fill-rule="evenodd"/><path d="M206,453 H252 Q259.5,453 259.5,461 V471 Q259.5,479 252,479 H229.5 V497 H207 Z M226,458.4 V472.8 H241 V458.4 Z" fill="#e8e8e8" fill-rule="evenodd"/><path d="M309,453 H344 V459.5 H320 Q318,459.5 318,462 V489.3 H344 V497 H309 Q302,497 302,490 V460 Q302,453 309,453 Z" fill="#e8e8e8" fill-rule="evenodd"/><path d="M360,453 H400 Q406,453 406,459 V490 Q406,497 399,497 H362 Q354,497 354,489 V459 Q354,453 360,453 Z M371,459.5 V488.5 H387 V459.5 Z" fill="#e8e8e8" fill-rule="evenodd"/><path d="M416,453 H460 Q467,453 467,460 V467 Q467,473 463,475 L474,497 H452 L454.8,475 H439 V497 H416 Z M433.5,459 V468 H448.5 V459 Z" fill="#e8e8e8" fill-rule="evenodd"/><path d="M479,453 H525 Q532.5,453 532.5,461 V471 Q532.5,479 525,479 H502.5 V497 H480 Z M499,458.4 V472.8 H514 V458.4 Z" fill="#e8e8e8" fill-rule="evenodd"/><path d="M553,453 H589 Q595,453 595,459 V490 Q595,497 588,497 H555 Q547,497 547,489 V459 Q547,453 553,453 Z M560,459.5 V488.5 H582 V459.5 Z" fill="#e8e8e8" fill-rule="evenodd"/><path d="M607,453 H651 Q658,453 658,460 V467 Q658,473 654,475 L665,497 H643 L645.8,475 H630 V497 H607 Z M624.5,459 V468 H639.5 V459 Z" fill="#e8e8e8" fill-rule="evenodd"/><path d="M689.7,453 H711.7 L732,497 H710 L705,486 H685.7 L680,497 H667 Z M688,478 H702 L695,465 Z" fill="#e8e8e8" fill-rule="evenodd"/><path d="M731,453 H783 V461 H770 V497 H748 V461 H731 Z" fill="#e8e8e8" fill-rule="evenodd"/><path d="M790,453 H810 V497 H790 Z" fill="#e8e8e8" fill-rule="evenodd"/><path d="M827.5,453 H869.0 Q875.0,453 875.0,459 V490 Q875.0,497 868.0,497 H829.5 Q821.5,497 821.5,489 V459 Q821.5,453 827.5,453 Z M840.0,459.5 V488.5 H856.0 V459.5 Z" fill="#e8e8e8" fill-rule="evenodd"/><path d="M884,453 H908 L929,483 V453 H941 V497 H917 L895,467 V497 H884 Z" fill="#e8e8e8" fill-rule="evenodd"/></g><path d="M45.6,451.5 Q46.5,450 48.5,450 H100.1 L92.4,496 Q92,497.8 90,497.8 H61 Q58.5,498 57.5,500.5 L53.9,519.5 Q53.2,523 50,523 H12 Q10.3,523 10.6,521 L13.2,499.8 Q13.6,497.3 16,497.3 H35 Q37.8,497 38.4,494 Z" fill="none" stroke="#e8e8e8" stroke-width="1.1"/><path d="M65,451 H98 L91.3,496.5 H57.2 Z" fill="#e8e8e8"/><path d="M34.1,499 H55 L52.2,521.5 H31.4 Z" fill="#e8e8e8"/></g></svg></body></html>
